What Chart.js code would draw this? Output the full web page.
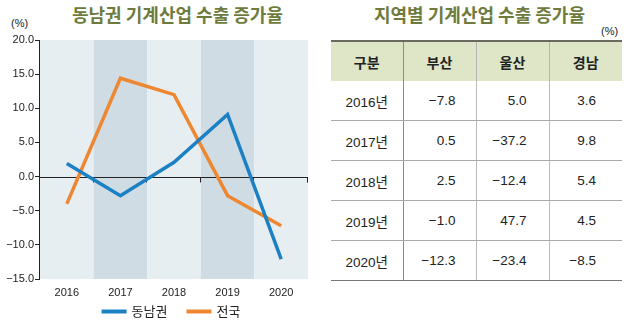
<!DOCTYPE html>
<html><head><meta charset="utf-8">
<script src="https://cdn.jsdelivr.net/npm/chart.js@4.4.1/dist/chart.umd.min.js"></script>
<style>
html,body{margin:0;padding:0;background:#fff;width:630px;height:323px;overflow:hidden;font-family:"Liberation Sans","Noto Sans CJK KR",sans-serif;color:#222;}
#cwrap{position:absolute;left:0;top:0;width:320px;height:323px;}
.title{position:absolute;top:0;height:28px;line-height:28px;text-align:center;font-family:"Noto Sans CJK KR",sans-serif;font-weight:600;font-size:18px;color:#6e7b3c;white-space:nowrap;}
#t1{left:72px;width:200px;}
#t2{left:374px;width:200px;}
.unit{position:absolute;font-size:11px;font-family:"Liberation Sans",sans-serif;color:#222;}
#u1{left:11px;top:17px;}
#u2{left:601px;top:25px;}
#tbl{position:absolute;left:331px;top:40px;border-collapse:collapse;table-layout:fixed;width:291px;font-size:13.5px;}
#tbl th,#tbl td{padding:0;height:39px;}
#tbl th{background:#dfe6c8;font-family:"Noto Sans CJK KR",sans-serif;font-weight:700;font-size:14px;color:#222;border-top:2px solid #6a6a60;border-left:1px solid #b5b5b5;text-align:center;}
#tbl th:first-child{border-left:none;}
#tbl th:nth-child(2){border-left:1px solid #8a8a8a;}
#tbl td{border-bottom:1px solid #aaa;border-left:1px solid #bbb;text-align:right;font-family:"Liberation Sans","Noto Sans CJK KR",sans-serif;}
#tbl td:first-child{border-left:none;text-align:center;}
#tbl td.c1{border-left:1px solid #8a8a8a;padding-right:20px;}
#tbl td.c2{padding-right:22px;}
#tbl td.c3{padding-right:26px;}
#tbl tr:last-child td{border-bottom:1px solid #777;}
</style></head>
<body>
<div id="t1" class="title">동남권 기계산업 수출 증가율</div>
<div id="t2" class="title">지역별 기계산업 수출 증가율</div>
<div id="u1" class="unit">(%)</div>
<div id="u2" class="unit">(%)</div>
<div id="cwrap"><canvas id="c" width="320" height="323"></canvas></div>
<table id="tbl"><colgroup><col style="width:72px"><col style="width:73px"><col style="width:73px"><col style="width:73px"></colgroup><thead></thead><tbody></tbody></table>
<script>
// ---- chart data ----
const years = ["2016", "2017", "2018", "2019", "2020"];
const seriesNames = ["동남권", "전국"];
const southeast = [1.9, -2.8, 2.1, 9.1, -12.1];
const national = [-4.0, 14.4, 12.0, -2.8, -7.2];
const yTicks = [20, 15, 10, 5, 0, -5, -10, -15];

// ---- table data ----
const tableHeader = ["구분", "부산", "울산", "경남"];
const tableRows = ["2016년", "2017년", "2018년", "2019년", "2020년"];
const busan = [-7.8, 0.5, 2.5, -1.0, -12.3];
const ulsan = [5.0, -37.2, -12.4, 47.7, -23.4];
const gyeongnam = [3.6, 9.8, 5.4, 4.5, -8.5];

const fmt = v => (v < 0 ? "\u2212" : "") + Math.abs(v).toFixed(1);

// build table
const thead = document.querySelector('#tbl thead');
thead.innerHTML = '<tr>' + tableHeader.map(h => '<th>' + h + '</th>').join('') + '</tr>';
const tbody = document.querySelector('#tbl tbody');
tbody.innerHTML = tableRows.map((r, i) =>
  '<tr><td>' + r + '</td><td class="c1">' + fmt(busan[i]) + '</td><td class="c2">' + fmt(ulsan[i]) +
  '</td><td class="c3">' + fmt(gyeongnam[i]) + '</td></tr>').join('');

const bandPlugin = {
  id: 'bands',
  beforeDraw(chart) {
    const {ctx, chartArea: a, scales: {x}} = chart;
    const n = chart.data.labels.length;
    const w = (a.right - a.left) / n;
    ctx.save();
    for (let i = 0; i < n; i++) {
      const cx = x.getPixelForValue(i);
      ctx.fillStyle = (i % 2 === 1) ? '#cfdce4' : '#e7eef2';
      ctx.fillRect(cx - w / 2, a.top, w, a.bottom - a.top);
    }
    ctx.restore();
  },
  beforeDatasetsDraw(chart) {
    const {ctx, chartArea: a, scales: {x, y}} = chart;
    const n = chart.data.labels.length;
    const w = (a.right - a.left) / n;
    ctx.save();
    ctx.strokeStyle = '#222';
    ctx.lineWidth = 1;
    ctx.beginPath();
    // y axis line
    const ax = Math.round(a.left) - 0.5;
    ctx.moveTo(ax, Math.round(a.top)); ctx.lineTo(ax, Math.round(a.bottom) + 1);
    // zero line with ticks
    const y0 = Math.round(y.getPixelForValue(0)) + 0.5;
    ctx.moveTo(a.left, y0); ctx.lineTo(a.right, y0);
    for (let i = 0; i < n; i++) {
      const bx = Math.round(x.getPixelForValue(i) + w / 2) - 0.5;
      ctx.moveTo(bx, y0); ctx.lineTo(bx, y0 + 5);
    }
    ctx.stroke();
    ctx.restore();
  }
};

const legendPlugin = {
  id: 'customLegend',
  afterDraw(chart) {
    const {ctx} = chart;
    ctx.save();
    ctx.font = '13px "Noto Sans CJK KR", sans-serif';
    ctx.textBaseline = 'middle';
    const lineW = 25, gap = 5, spacing = 19;
    const items = chart.data.datasets.map(d => ({label: d.label, color: d.borderColor, tw: ctx.measureText(d.label).width}));
    const total = items.reduce((s, it) => s + lineW + gap + it.tw, 0) + spacing * (items.length - 1);
    let xPos = 171 - total / 2;
    const yPos = 311.5;
    items.forEach(it => {
      ctx.strokeStyle = it.color;
      ctx.lineWidth = 4;
      ctx.beginPath();
      ctx.moveTo(xPos, yPos); ctx.lineTo(xPos + lineW, yPos);
      ctx.stroke();
      ctx.fillStyle = '#222';
      ctx.fillText(it.label, xPos + lineW + gap, yPos);
      xPos += lineW + gap + it.tw + spacing;
    });
    ctx.restore();
  }
};

new Chart(document.getElementById('c'), {
  type: 'line',
  data: {
    labels: years,
    datasets: [
      {label: seriesNames[0], data: southeast, borderColor: '#1b80c4', backgroundColor: '#1b80c4', borderWidth: 3.5, pointRadius: 0, tension: 0},
      {label: seriesNames[1], data: national, borderColor: '#ee8731', backgroundColor: '#ee8731', borderWidth: 3.5, pointRadius: 0, tension: 0}
    ]
  },
  options: {
    responsive: false,
    animation: false,
    devicePixelRatio: 1,
    layout: {padding: {top: 40, right: 12, left: 0, bottom: 0}},
    plugins: {legend: {display: false}, title: {display: false}, tooltip: {enabled: false}},
    scales: {
      x: {
        type: 'category',
        offset: true,
        grid: {display: false, drawTicks: false, tickLength: 0},
        border: {display: false},
        ticks: {font: {size: 11, family: 'Liberation Sans'}, color: '#222', padding: 7, maxRotation: 0},
        afterFit: s => { s.height = 44; }
      },
      y: {
        min: Math.min(...yTicks), max: Math.max(...yTicks),
        afterBuildTicks: s => { s.ticks = yTicks.map(v => ({value: v})); },
        ticks: {font: {size: 11, family: 'Liberation Sans'}, color: '#222', padding: 1, callback: v => fmt(v)},
        grid: {drawOnChartArea: false, drawTicks: true, tickLength: 5, color: '#222'},
        border: {display: false},
        afterFit: s => { s.width = 40; }
      }
    }
  },
  plugins: [bandPlugin, legendPlugin]
});
</script>
</body></html>
